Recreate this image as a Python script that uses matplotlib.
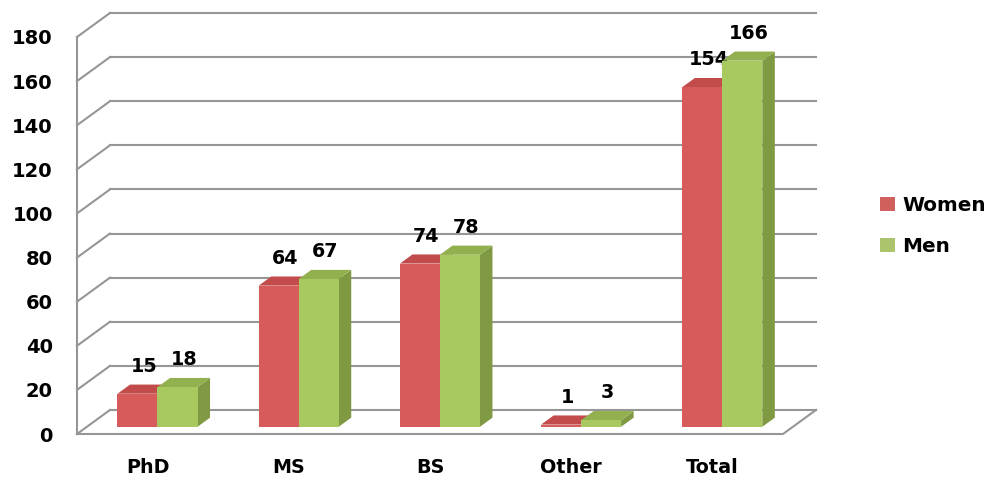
import matplotlib
matplotlib.use("Agg")
import matplotlib.pyplot as plt
from matplotlib.patches import Polygon, Rectangle, Patch

categories = ["PhD", "MS", "BS", "Other", "Total"]
women = [15, 64, 74, 1, 154]
men = [18, 67, 78, 3, 166]
series_names = ["Women", "Men"]
yticks = list(range(0, 181, 20))

W, H = 989, 483
fig = plt.figure(figsize=(W / 100, H / 100), dpi=100)
ax = fig.add_axes([77 / W, 49 / H, 706 / W, 397 / H])
ax.set_xlim(0, len(categories))
ax.set_ylim(0, 180)

# oblique depth of the plot (category units, value units)
DX, DY = 0.2337, 10.9
FRONT, DEPTH = 0.30, 0.38   # bar position inside the depth
grid_c = "#969696"
FONT = "DejaVu Sans"

# side wall and back wall gridlines
for v in yticks:
    ax.plot([0, DX], [v, v + DY], color=grid_c, lw=1.5, clip_on=False, zorder=1)
    ax.plot([DX, len(categories) + DX], [v + DY, v + DY], color=grid_c, lw=1.5,
            clip_on=False, zorder=1)
# floor
n = len(categories)
ax.plot([0, n, n + DX], [0, 0, DY], color=grid_c, lw=1.5, clip_on=False, zorder=1)

colors = {
    "Women": ("#D65B5A", "#C24C4B", "#A84140"),
    "Men": ("#A8C95F", "#93B04F", "#7F9A42"),
}
legend_colors = {"Women": "#CF605D", "Men": "#ACC46C"}

bw = 0.2833
fdx, fdy = FRONT * DX, FRONT * DY
ddx, ddy = DEPTH * DX, DEPTH * DY

def bar3d(x0, v, front, top, side, z):
    b = fdy
    x0 = x0 + fdx
    ax.add_patch(Polygon([(x0 + bw, b), (x0 + bw + ddx, b + ddy),
                          (x0 + bw + ddx, b + v + ddy), (x0 + bw, b + v)],
                         closed=True, fc=side, ec="none", clip_on=False, zorder=z))
    ax.add_patch(Polygon([(x0, b + v), (x0 + bw, b + v),
                          (x0 + bw + ddx, b + v + ddy), (x0 + ddx, b + v + ddy)],
                         closed=True, fc=top, ec="none", clip_on=False, zorder=z))
    ax.add_patch(Rectangle((x0, b), bw, v, fc=front, ec="none", clip_on=False, zorder=z))
    ax.text(x0 + bw / 2 + ddx / 2, b + v + ddy + 4, f"{v}", ha="center", va="bottom",
            fontsize=13.8, fontweight="bold", family=FONT, zorder=10)

for i in range(n):
    for j, (name, vals) in enumerate(zip(series_names, [women, men])):
        x0 = i + 0.5 - bw + j * bw
        f, t, s = colors[name]
        bar3d(x0, vals[i], f, t, s, 3 + i * 2 + j)

# axes styling
for sp in ["top", "right", "bottom"]:
    ax.spines[sp].set_visible(False)
ax.spines["left"].set_color(grid_c)
ax.spines["left"].set_linewidth(1.5)
ax.set_yticks(yticks)
ax.set_yticklabels([str(v) for v in yticks], fontsize=14, fontweight="bold", family=FONT)
ax.set_xticks([i + 0.5 for i in range(n)])
ax.set_xticklabels(categories, fontsize=13.8, fontweight="bold", family=FONT)
ax.tick_params(axis="y", length=0, pad=17.5)
ax.tick_params(axis="x", length=0, pad=17.5)
ax.patch.set_visible(False)

handles = [Patch(fc=legend_colors[s], ec="none") for s in series_names]
fig.legend(handles, series_names, loc="center left", bbox_to_anchor=(880 / W, 1 - 226 / H),
           frameon=False, prop={"family": FONT, "weight": "bold", "size": 14.4},
           handlelength=0.75, handleheight=0.75, handletextpad=0.35, labelspacing=1.1,
           borderaxespad=0, borderpad=0)

fig.savefig("out.png", dpi=100)
